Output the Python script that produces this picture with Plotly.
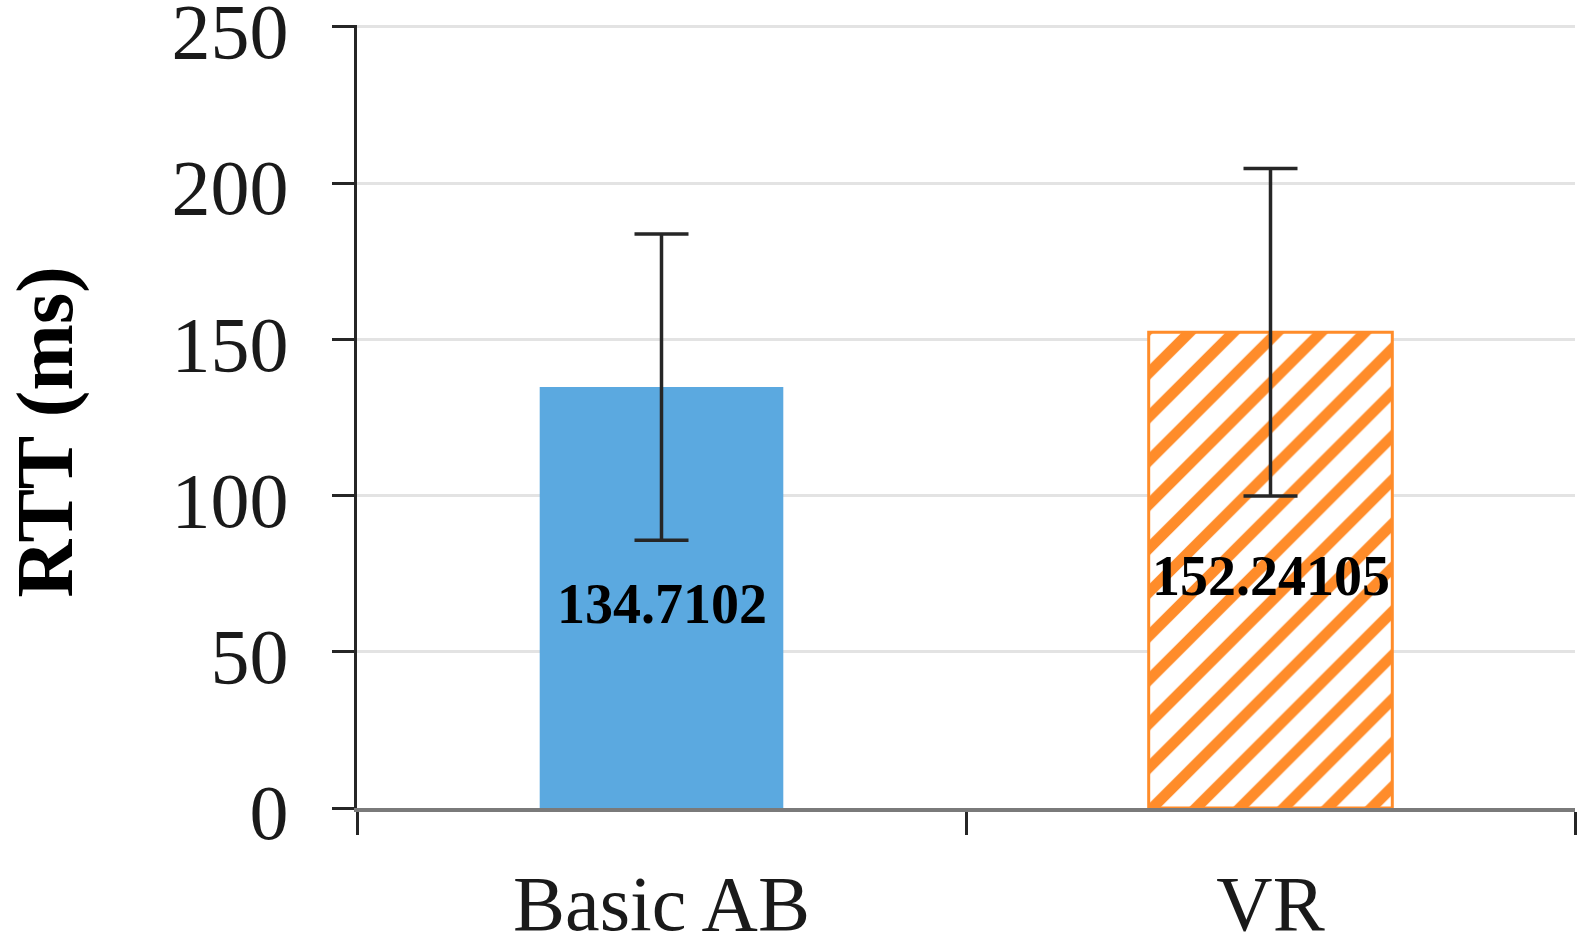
import plotly.graph_objects as go

# Mean round-trip time per configuration, with its spread
categories = ["Basic AB", "VR"]
rtt_mean = [134.7102, 152.24105]
rtt_err = [49.0, 52.4]
label_text = ["134.7102", "152.24105"]
y_ticks = [0, 50, 100, 150, 200, 250]

BLUE = "#5BA9E0"
ORANGE = "#FF8C2A"
DARK = "#262626"
SERIF = "Liberation Serif, Times New Roman, serif"

fig = go.Figure()

# Solid blue bar for the basic setup
fig.add_trace(go.Bar(
    x=[categories[0]], y=[rtt_mean[0]],
    width=0.40,
    marker=dict(color=BLUE, line=dict(width=0)),
    error_y=dict(type="data", array=[rtt_err[0]], visible=True,
                 color=DARK, thickness=3.5, width=27),
    showlegend=False,
))

# Hatched orange bar for VR
fig.add_trace(go.Bar(
    x=[categories[1]], y=[rtt_mean[1]],
    width=0.40,
    marker=dict(
        color="white",
        line=dict(color=ORANGE, width=3),
        pattern=dict(shape="/", fgcolor=ORANGE, bgcolor="white",
                     size=31, solidity=0.35, fillmode="replace"),
    ),
    error_y=dict(type="data", array=[rtt_err[1]], visible=True,
                 color=DARK, thickness=3.5, width=27),
    showlegend=False,
))

# Value labels placed in the middle of each bar
for cat, val, txt in zip(categories, rtt_mean, label_text):
    fig.add_annotation(
        x=cat, y=val / 2, text=txt, showarrow=False,
        xanchor="center", yanchor="middle", yshift=-6,
        font=dict(family=SERIF, size=56, color="black", weight="bold"),
    )

# Rotated y-axis title
fig.add_annotation(
    xref="paper", yref="paper", x=0, y=0.5,
    xshift=-312, yshift=-16,
    text="RTT (ms)", textangle=-90, showarrow=False,
    xanchor="center", yanchor="middle",
    font=dict(family=SERIF, size=80, color="black", weight="bold"),
)

fig.update_layout(
    width=1577, height=947,
    margin=dict(l=357, r=2, t=25, b=139, pad=0, autoexpand=False),
    paper_bgcolor="white", plot_bgcolor="white",
    bargap=0.6,
    font=dict(family=SERIF, color="#1a1a1a"),
)

fig.update_xaxes(
    type="category", automargin=False,
    showline=True, linecolor="#7a7a7a", linewidth=4,
    ticks="outside", tickson="boundaries", ticklen=23,
    tickwidth=3, tickcolor=DARK,
    tickfont=dict(family=SERIF, size=78, color="#1a1a1a"),
    ticklabelstandoff=24,
    showgrid=False, zeroline=False,
)

fig.update_yaxes(
    range=[0, 250.6], automargin=False,
    tickvals=y_ticks,
    showline=True, linecolor=DARK, linewidth=3,
    ticks="outside", ticklen=22, tickwidth=3, tickcolor=DARK,
    tickfont=dict(family=SERIF, size=78, color="#1a1a1a"),
    ticklabelstandoff=28, ticklabelshift=4,
    ticklabeloverflow="allow",
    showgrid=True, gridcolor="#e3e3e3", gridwidth=3,
    zeroline=False,
)

fig.write_html("out.html")
